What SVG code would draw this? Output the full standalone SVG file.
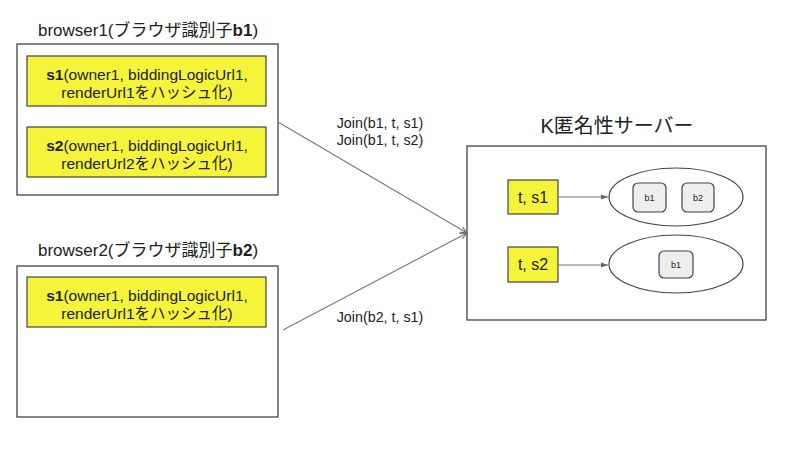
<svg xmlns="http://www.w3.org/2000/svg" width="800" height="450" viewBox="0 0 800 450">
<defs>
<style>
text{font-family:"Liberation Sans","Noto Sans CJK JP",sans-serif;fill:#222;}
.frame{fill:#fff;stroke:#444;stroke-width:1.3;}
.y{fill:#f4f43a;stroke:#444;stroke-width:1.2;}
.t16{font-size:17px;text-anchor:middle;}
.t14{font-size:15.5px;text-anchor:middle;}
.t13{font-size:14.3px;text-anchor:middle;}
.t20{font-size:20px;text-anchor:middle;}
.t17{font-size:16px;text-anchor:middle;}
.t9{font-size:9px;text-anchor:middle;}
.ell{fill:#fff;stroke:#444;stroke-width:1.2;}
.chip{fill:#eeeeee;stroke:#444;stroke-width:1.2;}
.c{stroke:#777;stroke-width:1.1;fill:none;}
</style>
<marker id="ah" markerWidth="8" markerHeight="8" refX="7" refY="4" orient="auto" markerUnits="userSpaceOnUse">
<path d="M0,1 L7,4 L0,7" fill="none" stroke="#666" stroke-width="1"/>
</marker>
<marker id="ahf" markerWidth="8" markerHeight="8" refX="7" refY="4" orient="auto" markerUnits="userSpaceOnUse">
<path d="M0,1.5 L7,4 L0,6.5 Z" fill="#666"/>
</marker>
</defs>
<rect width="800" height="450" fill="#fff"/>

<g id="browser1">
<text class="t16" x="148" y="36">browser1(ブラウザ識別子<tspan font-weight="bold">b1</tspan>)</text>
<rect class="frame" x="17" y="44" width="261" height="151"/>
</g>
<g id="b1s1">
<rect class="y" x="27" y="56" width="239" height="50"/>
<text class="t14" x="147" y="80"><tspan font-weight="bold">s1</tspan>(owner1, biddingLogicUrl1,</text>
<text class="t14" x="147" y="98">renderUrl1をハッシュ化)</text>
</g>
<g id="b1s2">
<rect class="y" x="27" y="127" width="239" height="50"/>
<text class="t14" x="147" y="151"><tspan font-weight="bold">s2</tspan>(owner1, biddingLogicUrl1,</text>
<text class="t14" x="147" y="169">renderUrl2をハッシュ化)</text>
</g>

<g id="browser2">
<text class="t16" x="148" y="256">browser2(ブラウザ識別子<tspan font-weight="bold">b2</tspan>)</text>
<rect class="frame" x="17" y="266" width="261" height="151"/>
</g>
<g id="b2s1">
<rect class="y" x="27" y="277" width="239" height="50"/>
<text class="t14" x="147" y="301"><tspan font-weight="bold">s1</tspan>(owner1, biddingLogicUrl1,</text>
<text class="t14" x="147" y="319">renderUrl1をハッシュ化)</text>
</g>

<g id="server">
<text class="t20" x="617" y="133">K匿名性サーバー</text>
<rect class="frame" x="467" y="146" width="299" height="174"/>
</g>
<g id="ts1">
<rect class="y" x="508" y="180" width="50" height="34"/>
<text class="t17" x="533" y="203">t, s1</text>
</g>
<g id="ts2">
<rect class="y" x="508" y="247" width="50" height="35"/>
<text class="t17" x="533" y="270">t, s2</text>
</g>
<g id="set1">
<ellipse class="ell" cx="676" cy="197" rx="67" ry="29"/>
<rect class="chip" x="633" y="183" width="33" height="29" rx="5"/>
<text class="t9" x="649.5" y="200.5">b1</text>
<rect class="chip" x="682" y="183" width="32" height="29" rx="5"/>
<text class="t9" x="698" y="200.5">b2</text>
</g>
<g id="set2">
<ellipse class="ell" cx="676" cy="264" rx="67" ry="29"/>
<rect class="chip" x="659" y="251" width="34" height="27" rx="5"/>
<text class="t9" x="676" y="267.5">b1</text>
</g>

<g id="connectors">
<line class="c" x1="278" y1="122" x2="467" y2="233" marker-end="url(#ah)"/>
<line class="c" x1="283" y1="330" x2="467" y2="233" marker-end="url(#ah)"/>
<line class="c" x1="558" y1="197" x2="608" y2="197" marker-end="url(#ahf)"/>
<line class="c" x1="558" y1="265" x2="608" y2="265" marker-end="url(#ahf)"/>
<text class="t13" x="380" y="128">Join(b1, t, s1)</text>
<text class="t13" x="380" y="145">Join(b1, t, s2)</text>
<text class="t13" x="380" y="322">Join(b2, t, s1)</text>
</g>
</svg>
